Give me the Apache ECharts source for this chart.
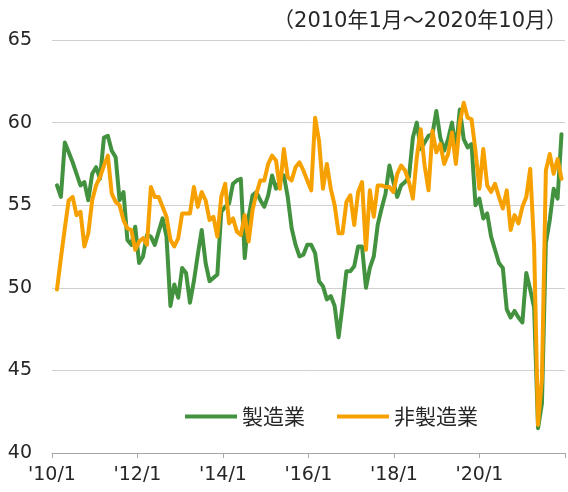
<!DOCTYPE html>
<html>
<head>
<meta charset="utf-8">
<script src="https://cdn.jsdelivr.net/npm/echarts@6/dist/echarts.min.js"></script>
<style>
  html, body { margin: 0; padding: 0; background: #fff; }
  #container { width: 568px; height: 492px; }
</style>
</head>
<body>
<div id="container"></div>
<script>
// 2010/1 .. 2020/10, monthly
const months = [];
for (let y = 2010; y <= 2020; y++) {
  for (let m = 1; m <= 12; m++) {
    if (y === 2020 && m > 10) break;
    months.push(y + '/' + m);
  }
}

const tickLabels = ["'10/1", "'12/1", "'14/1", "'16/1", "'18/1", "'20/1"];

const manufacturing = [
  56.2, 55.5, 58.8, 58.2, 57.6, 56.9, 56.2, 56.4, 55.3, 56.9, 57.3, 56.6,
  59.1, 59.2, 58.3, 57.9, 55.3, 55.8, 52.9, 52.6, 53.7, 51.5, 51.9, 53.2,
  53.1, 52.6, 53.4, 54.2, 53.1, 48.9, 50.2, 49.4, 51.2, 50.9, 49.1, 50.4,
  52.0, 53.5, 51.5, 50.4, 50.6, 50.8, 54.6, 54.9, 55.1, 56.3, 56.5, 56.6,
  51.8, 54.3, 55.6, 55.8, 55.3, 54.9, 55.6, 56.8, 56.0, 56.5, 56.8, 55.5,
  53.6, 52.6, 51.9, 52.0, 52.6, 52.6, 52.1, 50.4, 50.1, 49.3, 49.5, 48.9,
  47.0, 48.9, 51.0, 51.0, 51.3, 52.5, 52.5, 50.0, 51.2, 51.9, 53.8, 54.8,
  55.7, 57.4, 56.4, 55.5, 56.2, 56.4, 56.7, 59.1, 60.0, 58.4, 58.8, 59.2,
  59.3, 60.7, 59.1, 58.3, 59.0, 60.0, 58.3, 60.8, 59.0, 58.5, 58.7, 55.0,
  55.4, 54.2, 54.5, 53.1, 52.3, 51.5, 51.2, 48.7, 48.2, 48.6, 48.2, 47.9,
  50.9, 49.9, 48.8, 41.5, 43.0, 52.7, 54.1, 56.0, 55.4, 59.3
];

const nonManufacturing = [
  49.9, 51.8, 53.6, 55.3, 55.5, 54.4, 54.6, 52.5, 53.3, 55.3, 56.2, 56.7,
  57.4, 58.0, 55.7, 55.2, 55.0, 54.1, 53.6, 53.5, 52.3, 52.8, 53.0, 52.6,
  56.1, 55.5, 55.5, 54.9, 54.3, 52.9, 52.5, 53.0, 54.5, 54.5, 54.5, 56.1,
  54.9, 55.8, 55.3, 54.1, 54.3, 53.1, 55.5, 56.3, 53.9, 54.2, 53.4, 53.2,
  54.4, 52.8, 54.7, 55.7, 56.5, 56.5, 57.5, 58.0, 57.7, 56.0, 58.4, 56.7,
  56.5, 57.3, 57.6, 57.1, 56.5, 55.9, 60.3, 58.9, 56.0, 57.5, 56.0, 55.0,
  53.3, 53.3, 55.2, 55.6, 53.8, 55.8, 56.4, 52.3, 55.9, 54.3, 56.2, 56.2,
  56.1, 56.1, 55.8, 56.9, 57.4, 57.1, 56.4, 55.4, 57.9, 59.6, 57.4, 55.9,
  59.5, 58.2, 58.7, 57.5, 58.1, 59.4, 57.5, 60.0, 61.2, 60.3, 60.2, 58.3,
  56.0, 58.4, 56.2, 55.8, 56.3, 55.5, 54.8, 55.9, 53.5, 54.4, 53.9, 54.9,
  55.5, 57.2, 52.5, 41.7, 44.5, 57.1, 58.1, 56.9, 57.8, 56.6
];

const textColor = '#262626';
const baseFont = "'DejaVu Sans', 'Noto Sans CJK JP', sans-serif";

const myChart = echarts.init(document.getElementById('container'));
const option = {
  animation: false,
  title: {
    text: '（2010年1月～2020年10月）',
    right: -4,
    top: 6,
    textStyle: {
      fontSize: 21,
      fontWeight: 'normal',
      fontFamily: baseFont,
      color: textColor
    }
  },
  legend: {
    data: ['製造業', '非製造業'],
    left: 180,
    top: 401,
    icon: 'rect',
    itemWidth: 52,
    itemHeight: 4,
    itemGap: 32,
    textStyle: {
      fontSize: 21,
      fontFamily: "'Noto Sans CJK JP', sans-serif",
      color: textColor
    }
  },
  grid: [
    // data area
    { left: 57, right: 6.5, top: 40, bottom: 39 },
    // axis / gridlines area
    { left: 52, right: 0, top: 40, bottom: 39 }
  ],
  xAxis: [
    {
      gridIndex: 0,
      type: 'category',
      data: months,
      boundaryGap: false,
      show: false
    },
    {
      gridIndex: 1,
      type: 'value',
      min: 0,
      max: 6,
      interval: 1,
      axisLine: { show: true, lineStyle: { color: '#a6a6a6', width: 1 } },
      axisTick: { show: true, length: 5, lineStyle: { color: '#a6a6a6' } },
      splitLine: { show: false },
      axisLabel: {
        formatter: v => tickLabels[v] || '',
        fontSize: 19,
        fontFamily: baseFont,
        color: textColor,
        margin: 13
      }
    }
  ],
  yAxis: [
    {
      gridIndex: 0,
      type: 'value',
      min: 40,
      max: 65,
      interval: 5,
      show: false
    },
    {
      gridIndex: 1,
      type: 'value',
      min: 40,
      max: 65,
      interval: 5,
      axisLine: { show: false },
      axisTick: { show: false },
      splitLine: { lineStyle: { color: '#d0d0d0', width: 1 } },
      axisLabel: {
        fontSize: 19,
        fontFamily: baseFont,
        color: textColor,
        margin: 20
      }
    }
  ],
  series: [
    {
      name: '製造業',
      type: 'line',
      xAxisIndex: 0,
      yAxisIndex: 0,
      data: manufacturing,
      showSymbol: false,
      color: '#43923f',
      lineStyle: { width: 4, color: '#43923f', join: 'round', cap: 'round' }
    },
    {
      name: '非製造業',
      type: 'line',
      xAxisIndex: 0,
      yAxisIndex: 0,
      data: nonManufacturing,
      showSymbol: false,
      color: '#f6a100',
      lineStyle: { width: 4, color: '#f6a100', join: 'round', cap: 'round' }
    }
  ]
};
myChart.setOption(option);
window.addEventListener('resize', () => {
  myChart.resize();
});
</script>
</body>
</html>
